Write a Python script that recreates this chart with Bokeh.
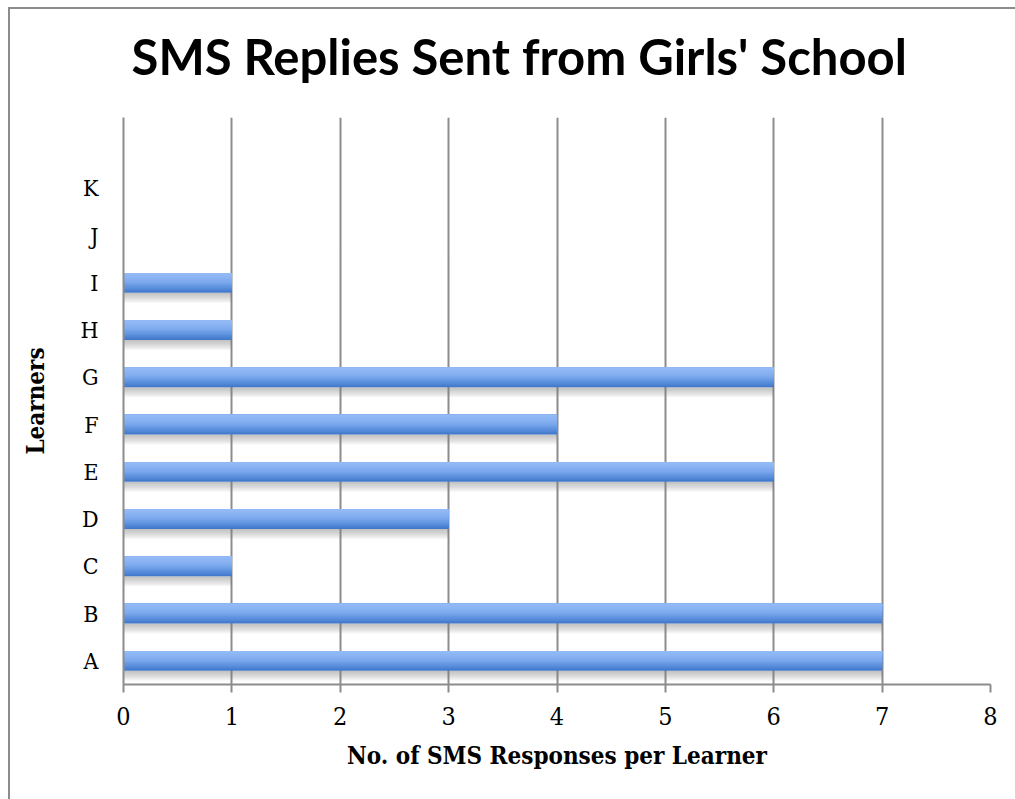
from bokeh.plotting import figure
from bokeh.models import ColumnDataSource, Range1d, FixedTicker, Title
from bokeh.transform import dodge
from bokeh.embed import file_html
from bokeh.resources import INLINE

# SMS replies per learner
learners = ["A", "B", "C", "D", "E", "F", "G", "H", "I", "J", "K"]
responses = [7, 7, 1, 3, 6, 4, 6, 1, 1, 0, 0]
x_ticks = [0, 1, 2, 3, 4, 5, 6, 7, 8]

title_text = "SMS Replies Sent from Girls' School"
x_label = "No. of SMS Responses per Learner"
y_label = "Learners"

# each learner sits on its own row; one spare row is left empty at the top
rows = list(range(len(learners)))
src = ColumnDataSource(dict(row=rows, learner=learners, responses=responses))

GREY = "#8c8c8c"
SERIF = "DejaVu Serif Condensed"

# the canvas starts a little above the page so the title has room to breathe
LIFT = 20
p = figure(
    width=1015, height=799 + LIFT,
    y_range=Range1d(-0.5, len(learners) + 0.5),
    x_range=Range1d(0, 8),
    output_backend="svg", toolbar_location=None,
    min_border_left=123, min_border_right=25,
    min_border_top=117 + LIFT, min_border_bottom=115,
)
line = f"linear-gradient({GREY}, {GREY})"
p.styles = {
    "margin-top": f"-{LIFT}px",
    # chart-area border along the top and left edges
    "background": (f"{line} 8px {LIFT + 7}px / 100% 2px no-repeat, "
                   f"{line} 8px {LIFT + 7}px / 2px 100% no-repeat, white"),
}
p.outline_line_color = None
p.background_fill_color = "white"
p.border_fill_alpha = 0

p.title = Title(text=title_text, align="left", offset=8, standoff=66,
                text_font="Lato", text_font_style="bold",
                text_font_size="49px", text_color="black")

# vertical grid only
p.xgrid.grid_line_color = GREY
p.xgrid.grid_line_width = 2
p.ygrid.grid_line_color = None

xa = p.xaxis[0]
xa.ticker = FixedTicker(ticks=x_ticks)
xa.axis_line_color = GREY
xa.axis_line_width = 2
xa.major_tick_line_color = GREY
xa.major_tick_line_width = 2
xa.major_tick_in = 0
xa.major_tick_out = 8
xa.minor_tick_line_color = None
xa.major_label_text_font = SERIF
xa.major_label_text_font_size = "25px"
xa.major_label_text_color = "black"
xa.major_label_standoff = 14
xa.axis_label = x_label
xa.axis_label_text_font = SERIF
xa.axis_label_text_font_style = "bold"
xa.axis_label_text_font_size = "24px"
xa.axis_label_text_color = "black"
xa.axis_label_standoff = 13

ya = p.yaxis[0]
ya.ticker = FixedTicker(ticks=rows)
ya.major_label_overrides = {r: name for r, name in zip(rows, learners)}
ya.axis_line_color = GREY
ya.axis_line_width = 2
ya.major_tick_line_color = None
ya.minor_tick_line_color = None
ya.major_label_text_font = SERIF
ya.major_label_text_font_size = "23px"
ya.major_label_text_color = "black"
ya.major_label_standoff = 19
ya.axis_label = y_label
ya.axis_label_text_font = SERIF
ya.axis_label_text_font_style = "bold"
ya.axis_label_text_font_size = "24px"
ya.axis_label_text_color = "black"
ya.axis_label_standoff = 27

BAR_H = 0.42

# soft drop shadow under each bar: stacked translucent bands, darkest nearest the bar
n_shadow = 8
SH_DEPTH = 0.21
for k in range(n_shadow):
    depth = SH_DEPTH * (k + 1) / n_shadow
    off = -BAR_H / 2 - depth / 2
    p.hbar(y=dodge("row", off), left=0, right="responses",
           height=depth, source=src,
           fill_color="#7a7a7a", fill_alpha=0.07, line_color=None)

# vertical gradient inside each bar: lighter bands stacked from the bottom upward
stops = [(0.0, (0x3f, 0x76, 0xc9)), (0.25, (0x5a, 0x8f, 0xdc)),
         (0.5, (0x78, 0xa6, 0xec)), (0.75, (0x8a, 0xb3, 0xf3)),
         (1.0, (0x95, 0xbb, 0xf7))]


def grad(t):
    for (t0, c0), (t1, c1) in zip(stops, stops[1:]):
        if t <= t1:
            f = (t - t0) / (t1 - t0)
            return "#%02x%02x%02x" % tuple(round(a + (b - a) * f) for a, b in zip(c0, c1))
    return "#%02x%02x%02x" % stops[-1][1]


n_bands = 16
for i in range(n_bands):
    lo = i / n_bands
    h = BAR_H * (1 - lo)
    off = BAR_H / 2 - h / 2
    p.hbar(y=dodge("row", off), left=0, right="responses",
           height=h, source=src, fill_color=grad((i + 0.5) / n_bands),
           line_color=None)

open("out.html", "w").write(file_html(p, INLINE))
